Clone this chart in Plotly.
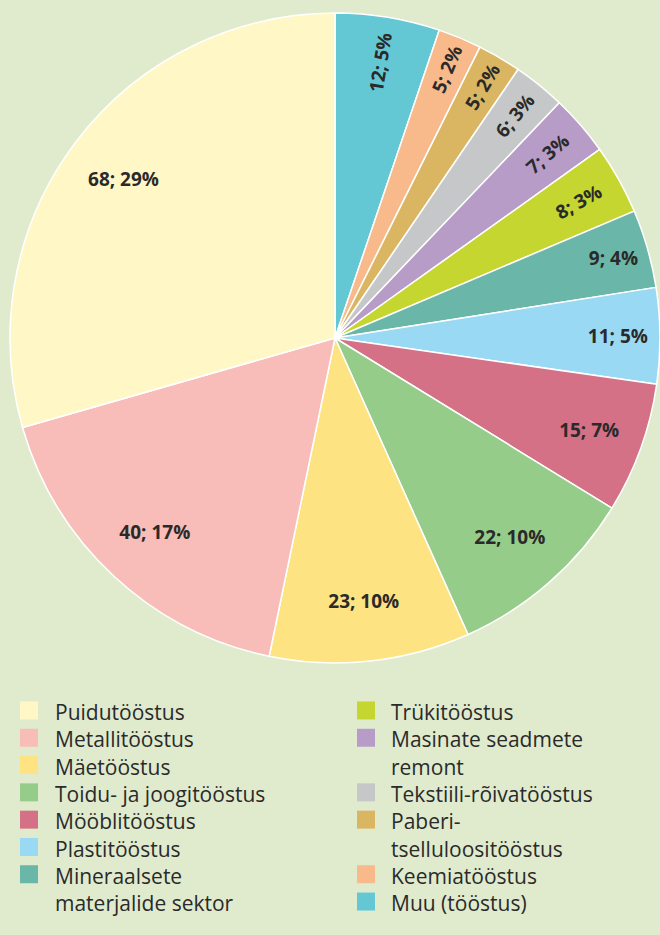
import plotly.graph_objects as go

# ---- data (legend order) ----
categories = ["Puidutööstus", "Metallitööstus", "Mäetööstus", "Toidu- ja joogitööstus",
              "Mööblitööstus", "Plastitööstus", "Mineraalsete materjalide sektor",
              "Trükitööstus", "Masinate seadmete remont", "Tekstiili-rõivatööstus",
              "Paberi-tselluloositööstus", "Keemiatööstus", "Muu (tööstus)"]
legend_labels = ["Puidutööstus", "Metallitööstus", "Mäetööstus", "Toidu- ja joogitööstus",
                 "Mööblitööstus", "Plastitööstus", "Mineraalsete<br>materjalide sektor",
                 "Trükitööstus", "Masinate seadmete<br>remont", "Tekstiili-rõivatööstus",
                 "Paberi-<br>tselluloositööstus", "Keemiatööstus", "Muu (tööstus)"]
counts = [68, 40, 23, 22, 15, 11, 9, 8, 7, 6, 5, 5, 12]
percents = [29, 17, 10, 10, 7, 5, 4, 3, 3, 3, 2, 2, 5]
colors = ["#fff8c6", "#f8bdb8", "#fde382", "#95cc89", "#d57186", "#99d9f4", "#6ab6a9",
          "#c4d62f", "#b79cc8", "#c6c7c8", "#dbb662", "#f8b98b", "#63c8d4"]
radial_label = [False, False, False, False, False, False, False,
                True, True, True, True, True, True]

W, H = 660, 935
BG = "#e0ebce"
TXT = "#2a2a2a"

# pie runs clockwise from 12 o'clock in reverse legend order
p_cats = categories[::-1]
p_counts = counts[::-1]
p_colors = colors[::-1]
p_lab = [f"{c}; {p}%" for c, p in zip(counts, percents)][::-1]
p_rad = radial_label[::-1]
text_h = [t if not r else "" for t, r in zip(p_lab, p_rad)]
text_r = [t if r else "" for t, r in zip(p_lab, p_rad)]

dom_x = [10 / W, 1.0]
dom_y = [(H - 663) / H, (H - 13) / H]
clear = ["rgba(0,0,0,0)"] * len(p_counts)
lab_font = dict(family="Open Sans", size=19, color=TXT, weight="bold")

fig = go.Figure()
fig.add_trace(go.Pie(
    labels=p_cats, values=p_counts, textinfo="none",
    sort=False, direction="clockwise", rotation=0,
    marker=dict(colors=p_colors, line=dict(color="white", width=1.5)),
    domain=dict(x=dom_x, y=dom_y), showlegend=False, hoverinfo="label+value+percent",
))
fig.add_trace(go.Pie(
    labels=p_cats, values=p_counts, text=text_h, textinfo="text", hole=0.63,
    textposition="inside", insidetextorientation="horizontal",
    sort=False, direction="clockwise", rotation=0,
    marker=dict(colors=clear, line=dict(width=0)), insidetextfont=lab_font,
    domain=dict(x=dom_x, y=dom_y), showlegend=False, hoverinfo="skip",
))
fig.add_trace(go.Pie(
    labels=p_cats, values=p_counts, text=text_r, textinfo="text", hole=0.72,
    textposition="inside", insidetextorientation="radial",
    sort=False, direction="clockwise", rotation=0,
    marker=dict(colors=clear, line=dict(width=0)), insidetextfont=lab_font,
    domain=dict(x=dom_x, y=dom_y), showlegend=False, hoverinfo="skip",
))

# ---- legend (two columns, one text block per column) ----
leg_size = 21
spacing = 1.3 * leg_size          # plotly's line spacing for multi-line text
block_mid = 807
annotations = []
shapes = []
columns = [("L", legend_labels[:7], colors[:7], 20, 53),
           ("R", legend_labels[7:], colors[7:], 357, 389)]
for _, labs, cols, sq_x0, tx in columns:
    n_lines = sum(l.count("<br>") + 1 for l in labs)
    first = block_mid - spacing * (n_lines - 1) / 2
    line = 0
    for lab, c in zip(labs, cols):
        yc = first + spacing * line - 1
        shapes.append(dict(type="rect", xref="paper", yref="paper",
                           x0=sq_x0 / W, x1=(sq_x0 + 18) / W,
                           y0=1 - (yc + 9) / H, y1=1 - (yc - 9) / H,
                           fillcolor=c, line=dict(width=0)))
        line += lab.count("<br>") + 1
    annotations.append(dict(x=tx / W, y=1 - block_mid / H, xref="paper", yref="paper",
                            xanchor="left", yanchor="middle", align="left",
                            showarrow=False, text="<br>".join(labs),
                            font=dict(family="Open Sans", size=leg_size, color=TXT)))

fig.update_layout(
    width=W, height=H, margin=dict(l=0, r=0, t=0, b=0),
    paper_bgcolor=BG, plot_bgcolor=BG,
    uniformtext=dict(minsize=18, mode="show"),
    annotations=annotations, shapes=shapes,
)

fig.write_html("out.html", config={"displayModeBar": False},
               post_script="document.body.style.margin='0';document.body.style.background='" + BG + "';")
